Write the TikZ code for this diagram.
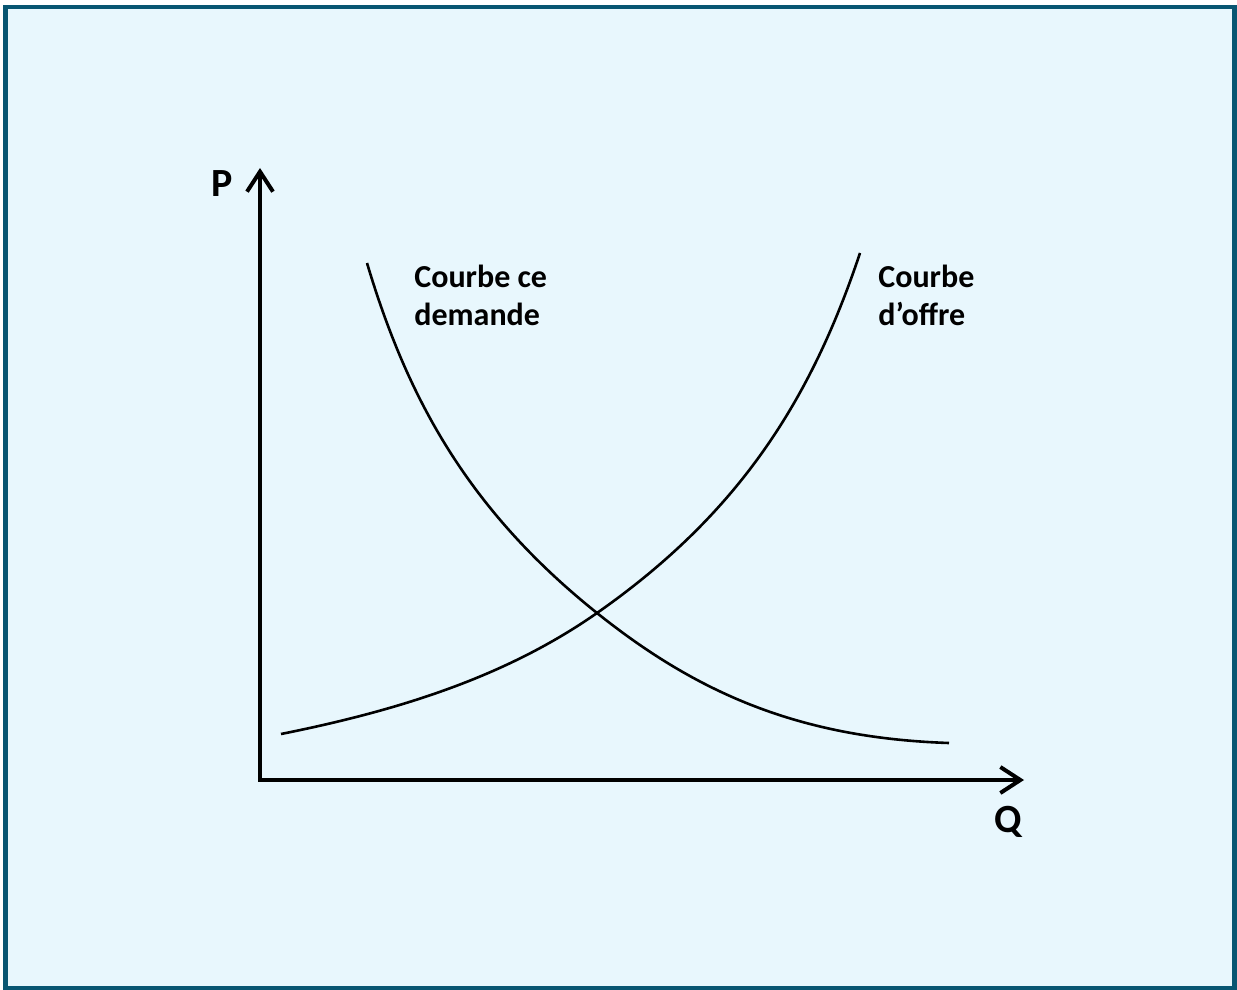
\documentclass[tikz,border=0pt]{standalone}
\usepackage{fontspec}
\setmainfont{Carlito}
\usetikzlibrary{arrows.meta}
\definecolor{framec}{RGB}{8,86,114}
\definecolor{paper}{RGB}{232,247,253}

\begin{document}
\begin{tikzpicture}[
    x=0.5pt, y=-0.5pt,
    axis/.style={line width=2pt, {Straight Barb[length=10pt,width=13pt]}-{Straight Barb[length=10pt,width=13pt]}},
    curve/.style={line width=1.3pt},
    axlabel/.style={inner sep=0pt, anchor=base west, font=\bfseries\fontsize{20}{24}\selectfont},
    curvelabel/.style={inner sep=0pt, anchor=north west, align=left, font=\bfseries\fontsize{16}{19}\selectfont}
]
\useasboundingbox (0,0) rectangle (1237,990);
\draw[framec, fill=paper, line width=2.2pt] (5.5,7) rectangle (1234.5,988.5);
% axes
\coordinate (ptip) at (260,168);
\coordinate (origin) at (260,780);
\coordinate (qtip) at (1024,780);
\draw[axis] (ptip) -- (origin) -- (qtip);
\node[axlabel] (plabel) at (211,196) {P};
\node[axlabel] (qlabel) at (994,832) {Q};
% demand and supply
\coordinate (eq) at (597,613);
\draw[curve] (367,263) .. controls (407,397) and (467,509) .. (eq)
    .. controls (697,693) and (799,738) .. (949,743);
\draw[curve] (281,734) .. controls (401,710) and (507,676) .. (eq)
    .. controls (737,515) and (810,403) .. (860,253);
\node[curvelabel] (demand) at (414,265) {Courbe ce\\demande};
\node[curvelabel] (supply) at (878,265) {Courbe\\d’offre};
\end{tikzpicture}
\end{document}
